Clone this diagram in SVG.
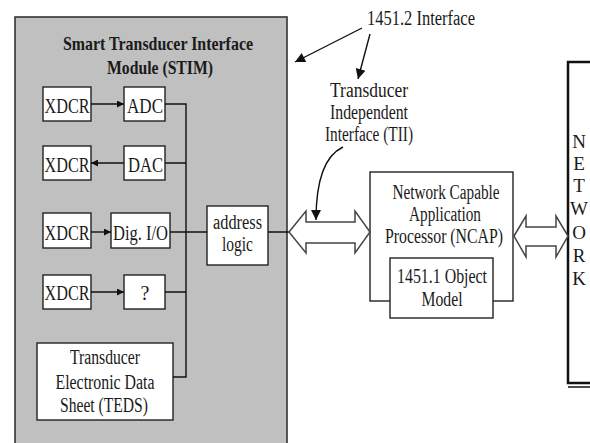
<svg xmlns="http://www.w3.org/2000/svg" width="590" height="443" viewBox="0 0 590 443">
<style>
.box{fill:#fff;stroke:#222;stroke-width:1.4}
.ln{fill:none;stroke:#111;stroke-width:1.4}
.t{font-family:"Liberation Serif","Times New Roman",serif;font-size:20px;fill:#1a1a1a;text-anchor:middle}
.b{font-weight:bold;font-size:19px}
.big{font-size:22px}
.net{font-family:"Liberation Serif","Times New Roman",serif;font-size:19px;fill:#1a1a1a;text-anchor:middle}
.dbl{fill:#fff;stroke:#444;stroke-width:1.5;stroke-linejoin:miter}
</style>
<defs>
<marker id="ah" viewBox="0 0 10 10" refX="10" refY="5" markerWidth="8" markerHeight="7" markerUnits="userSpaceOnUse" orient="auto">
<path d="M0,0 L10,5 L0,10 z" fill="#111"/>
</marker>
<marker id="ah2" viewBox="0 0 10 10" refX="10" refY="5" markerWidth="14" markerHeight="10" markerUnits="userSpaceOnUse" orient="auto">
<path d="M0,0 L10,5 L0,10 z" fill="#111"/>
</marker>
</defs>
<rect width="590" height="443" fill="#fff"/>

<g id="stim">
<rect x="15" y="17" width="272" height="440" fill="#c0c0c0" stroke="#333" stroke-width="1.6"/>
<text class="t b" x="158" y="50" textLength="190" lengthAdjust="spacingAndGlyphs">Smart Transducer Interface</text>
<text class="t b" x="160" y="74" textLength="106" lengthAdjust="spacingAndGlyphs">Module (STIM)</text>
</g>

<g id="xdcr1"><rect class="box" x="43" y="87" width="48" height="34"/><text class="t big" x="67" y="113" textLength="45" lengthAdjust="spacingAndGlyphs">XDCR</text></g>
<g id="adc"><rect class="box" x="124" y="87" width="41" height="34"/><text class="t big" x="145" y="113" textLength="36" lengthAdjust="spacingAndGlyphs">ADC</text></g>
<g id="xdcr2"><rect class="box" x="43" y="146" width="48" height="34"/><text class="t big" x="67" y="172" textLength="45" lengthAdjust="spacingAndGlyphs">XDCR</text></g>
<g id="dac"><rect class="box" x="124" y="146" width="41" height="34"/><text class="t big" x="145.5" y="172" textLength="35" lengthAdjust="spacingAndGlyphs">DAC</text></g>
<g id="xdcr3"><rect class="box" x="43" y="213" width="48" height="35"/><text class="t big" x="67" y="240" textLength="45" lengthAdjust="spacingAndGlyphs">XDCR</text></g>
<g id="digio"><rect class="box" x="111" y="213" width="59" height="35"/><text class="t big" x="140.5" y="240" textLength="55" lengthAdjust="spacingAndGlyphs">Dig. I/O</text></g>
<g id="xdcr4"><rect class="box" x="43" y="275" width="48" height="34"/><text class="t big" x="67" y="300" textLength="45" lengthAdjust="spacingAndGlyphs">XDCR</text></g>
<g id="unknown"><rect class="box" x="124" y="275" width="41" height="34"/><text class="t" x="145" y="300">?</text></g>
<g id="teds"><rect class="box" x="37" y="343" width="136" height="77"/>
<text class="t" x="105" y="364" textLength="70" lengthAdjust="spacingAndGlyphs">Transducer</text>
<text class="t" x="105" y="389" textLength="99" lengthAdjust="spacingAndGlyphs">Electronic Data</text>
<text class="t" x="104" y="412" textLength="88" lengthAdjust="spacingAndGlyphs">Sheet (TEDS)</text></g>
<g id="address"><rect class="box" x="207" y="206" width="61" height="59"/>
<text class="t" x="237.5" y="229" textLength="49" lengthAdjust="spacingAndGlyphs">address</text>
<text class="t" x="237.5" y="251" textLength="31" lengthAdjust="spacingAndGlyphs">logic</text></g>

<g id="ncap"><rect class="box" x="370" y="172" width="143" height="129"/>
<text class="t" x="446" y="199" textLength="107" lengthAdjust="spacingAndGlyphs">Network Capable</text>
<text class="t" x="445" y="221" textLength="72" lengthAdjust="spacingAndGlyphs">Application</text>
<text class="t" x="444" y="243" textLength="118" lengthAdjust="spacingAndGlyphs">Processor (NCAP)</text></g>
<g id="objmodel"><rect class="box" x="390" y="258" width="103" height="60"/>
<text class="t" x="442" y="283" textLength="90" lengthAdjust="spacingAndGlyphs">1451.1 Object</text>
<text class="t" x="442" y="306" textLength="41" lengthAdjust="spacingAndGlyphs">Model</text></g>

<g id="network">
<rect x="568" y="62" width="40" height="321" fill="#fff" stroke="#111" stroke-width="2.5"/>
<line x1="568" y1="387" x2="590" y2="387" stroke="#111" stroke-width="1.5"/>
<text class="net" x="579" y="148">N</text>
<text class="net" x="579" y="170">E</text>
<text class="net" x="579" y="192">T</text>
<text class="net" x="579" y="215">W</text>
<text class="net" x="579" y="239">O</text>
<text class="net" x="579" y="262">R</text>
<text class="net" x="579" y="285">K</text>
</g>

<g id="labels">
<text class="t" x="421" y="25" font-size="19" textLength="108" lengthAdjust="spacingAndGlyphs">1451.2 Interface</text>
<text class="t" x="369" y="97" textLength="78" lengthAdjust="spacingAndGlyphs">Transducer</text>
<text class="t" x="369" y="119" textLength="78" lengthAdjust="spacingAndGlyphs">Independent</text>
<text class="t" x="369" y="141" textLength="88" lengthAdjust="spacingAndGlyphs">Interface (TII)</text>
</g>

<g id="connectors">
<line class="ln" x1="91" y1="104" x2="124" y2="104" marker-end="url(#ah)"/>
<line class="ln" x1="124" y1="163" x2="91" y2="163" marker-end="url(#ah)"/>
<line class="ln" x1="91" y1="232" x2="111" y2="232" marker-end="url(#ah)"/>
<line class="ln" x1="91" y1="292" x2="124" y2="292" marker-end="url(#ah)"/>
<path class="ln" d="M165,104 H186 V377 H173 M165,163 H186 M170,232 H207 M165,292 H186 M268,232 H289"/>
<polygon class="dbl" points="289,232 306,211 306,222 355,222 355,211 370,232 355,253 355,243 306,243 306,253"/>
<polygon class="dbl" points="514,236 526,216 526,227 556,227 556,216 568,236 556,257 556,246 526,246 526,257"/>
<line class="ln" x1="362" y1="28" x2="295" y2="62" marker-end="url(#ah2)"/>
<line class="ln" x1="370" y1="34" x2="358" y2="79" marker-end="url(#ah2)"/>
<path class="ln" d="M343,147 C326,155 316,176 316,220" marker-end="url(#ah2)"/>
</g>
</svg>
